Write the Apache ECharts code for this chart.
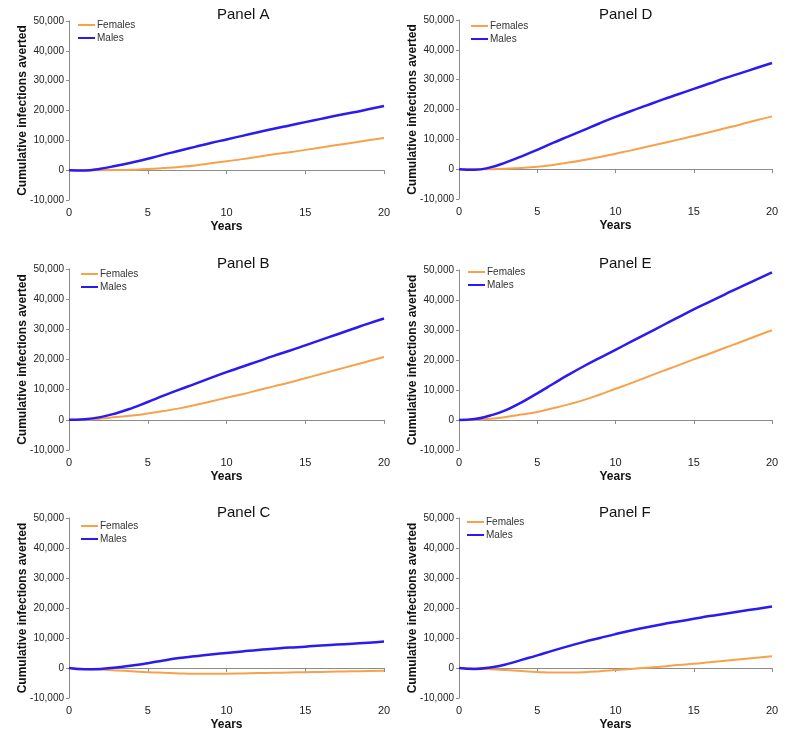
<html>
<head>
<meta charset="utf-8">
<title>Cumulative infections averted</title>
<script src="https://cdn.jsdelivr.net/npm/echarts@6/dist/echarts.min.js"></script>
<style>
  body { margin: 0; background: #fff; }
</style>
</head>
<body>
<div id="main" style="width: 796px; height: 742px;"></div>
<script type="text/javascript">
// years since start
var years = [0, 1, 2, 3, 4, 5, 6, 7, 8, 9, 10, 11, 12, 13, 14, 15, 16, 17, 18, 19, 20];
var yTicks = [-10000, 0, 10000, 20000, 30000, 40000, 50000];
var xTicks = [0, 5, 10, 15, 20];
var panelNames = ['Panel A', 'Panel B', 'Panel C', 'Panel D', 'Panel E', 'Panel F'];
var seriesNames = ['Females', 'Males'];

// values
var femalesA = [0, -50, 0, 50, 150, 350, 700, 1100, 1600, 2300, 3000, 3700, 4500, 5300, 6000, 6800, 7600, 8400, 9200, 10000, 10800];
var malesA = [0, -100, 500, 1500, 2600, 3800, 5200, 6500, 7800, 9100, 10300, 11500, 12700, 13900, 15000, 16100, 17200, 18300, 19300, 20400, 21500];
var femalesB = [0, 100, 400, 900, 1400, 2100, 2900, 3800, 4900, 6100, 7300, 8500, 9800, 11100, 12400, 13800, 15200, 16600, 18000, 19400, 20800];
var malesB = [0, 200, 900, 2200, 3900, 5900, 8000, 10000, 11900, 13900, 15800, 17600, 19400, 21200, 22900, 24700, 26500, 28300, 30100, 31900, 33600];
var femalesC = [0, -300, -500, -800, -1100, -1400, -1600, -1800, -1900, -1900, -1900, -1800, -1700, -1600, -1500, -1400, -1300, -1200, -1100, -1000, -900];
var malesC = [0, -400, -300, 200, 800, 1600, 2500, 3300, 3900, 4500, 5000, 5500, 6000, 6400, 6800, 7100, 7500, 7800, 8100, 8400, 8800];
var femalesD = [0, -50, 0, 150, 400, 800, 1400, 2200, 3100, 4100, 5200, 6300, 7500, 8700, 9900, 11100, 12400, 13700, 15000, 16400, 17700];
var malesD = [0, -200, 600, 2300, 4300, 6500, 8800, 11000, 13200, 15400, 17500, 19500, 21400, 23300, 25100, 26900, 28700, 30500, 32200, 33900, 35600];
var femalesE = [0, 100, 400, 1000, 1800, 2700, 3900, 5200, 6700, 8500, 10400, 12300, 14300, 16300, 18200, 20200, 22100, 24100, 26000, 28000, 29900];
var malesE = [0, 300, 1500, 3300, 5900, 8900, 12000, 15100, 18000, 20700, 23400, 26100, 28800, 31500, 34200, 36900, 39400, 41900, 44400, 46800, 49200];
var femalesF = [0, -200, -400, -700, -1000, -1300, -1500, -1500, -1400, -1100, -700, -300, 100, 500, 1000, 1400, 1900, 2400, 2900, 3400, 3900];
var malesF = [0, -300, 200, 1200, 2700, 4200, 5800, 7300, 8700, 10000, 11300, 12500, 13600, 14600, 15500, 16400, 17300, 18100, 18900, 19700, 20500];

var femalesAll = [femalesA, femalesB, femalesC, femalesD, femalesE, femalesF];
var malesAll = [malesA, malesB, malesC, malesD, malesE, malesF];

var font = 'Liberation Sans, Arial, Helvetica, sans-serif';
var femaleColor = '#F7A24B';
var maleColor = '#2B1BF2';
var axisGray = '#8c8c8c';

// panel placement: A B C left column, D E F right column
var boxes = [
  { left: 69, top: 21, width: 315, height: 179, title: [217, 7], legend: [78, 20] },
  { left: 69, top: 269, width: 315, height: 181, title: [217, 256], legend: [81, 269] },
  { left: 69, top: 518, width: 315, height: 180, title: [217, 505], legend: [81, 521] },
  { left: 459, top: 20, width: 313, height: 179, title: [599, 7], legend: [471, 21] },
  { left: 459, top: 270, width: 313, height: 180, title: [599, 256], legend: [468, 267] },
  { left: 459, top: 518, width: 313, height: 180, title: [599, 505], legend: [467, 517] }
];

function pairs(vals) {
  return years.map(function (x, i) { return [x, vals[i]]; });
}

var titles = [], legends = [], grids = [], xAxes = [], yAxes = [], series = [];

for (var k = 0; k < 6; k++) {
  var b = boxes[k];
  titles.push({
    text: panelNames[k],
    left: b.title[0], top: b.title[1], padding: 0,
    textStyle: { fontFamily: font, fontSize: 15, fontWeight: 'normal', color: '#111' }
  });
  legends.push({
    data: [
      { name: 'Females', icon: 'rect' },
      { name: 'Males', icon: 'rect' }
    ],
    orient: 'vertical',
    left: b.legend[0], top: b.legend[1], padding: 0,
    itemWidth: 17, itemHeight: 2, itemGap: 3,
    selectedMode: false,
    textStyle: { fontFamily: font, fontSize: 10, color: '#333', padding: [0, 0, 0, -3] }
  });
  grids.push({ left: b.left, top: b.top, width: b.width, height: b.height, containLabel: false, outerBoundsMode: 'none' });

  // labelled axis along the bottom
  xAxes.push({
    type: 'value', gridIndex: k, position: 'bottom',
    min: xTicks[0], max: xTicks[xTicks.length - 1], interval: 5,
    name: 'Years', nameLocation: 'middle', nameGap: 21,
    nameTextStyle: { fontFamily: font, fontSize: 12, fontWeight: 'bold', color: '#111' },
    axisLine: { show: false, onZero: false },
    axisTick: { show: false },
    splitLine: { show: false },
    axisLabel: { fontFamily: font, fontSize: 11, color: '#222', margin: 7 }
  });
  // axis line drawn through zero
  xAxes.push({
    type: 'value', gridIndex: k, position: 'top',
    min: xTicks[0], max: xTicks[xTicks.length - 1], interval: 5,
    axisLine: { show: true, onZero: true, lineStyle: { color: axisGray, width: 1 } },
    axisTick: { show: true, inside: true, length: 4, lineStyle: { color: axisGray } },
    splitLine: { show: false },
    axisLabel: { show: false }
  });
  yAxes.push({
    type: 'value', gridIndex: k,
    min: yTicks[0], max: yTicks[yTicks.length - 1], interval: 10000,
    name: 'Cumulative infections averted', nameLocation: 'middle', nameGap: 40, nameRotate: 90,
    nameMoveOverlap: false,
    nameTextStyle: { fontFamily: font, fontSize: 12, fontWeight: 'bold', color: '#111' },
    axisLine: { show: true, lineStyle: { color: axisGray, width: 1 } },
    axisTick: { show: true, length: 3, lineStyle: { color: axisGray } },
    splitLine: { show: false },
    axisLabel: {
      fontFamily: font, fontSize: 10, color: '#222', margin: 5,
      formatter: function (v) { return v.toLocaleString('en-US'); }
    }
  });

  series.push({
    name: 'Females', type: 'line', xAxisIndex: 2 * k + 1, yAxisIndex: k,
    smooth: true, symbol: 'none', data: pairs(femalesAll[k]),
    lineStyle: { color: femaleColor, width: 2 }, itemStyle: { color: femaleColor }
  });
  series.push({
    name: 'Males', type: 'line', xAxisIndex: 2 * k + 1, yAxisIndex: k,
    smooth: true, symbol: 'none', data: pairs(malesAll[k]),
    lineStyle: { color: maleColor, width: 2.5 }, itemStyle: { color: maleColor }
  });
}

var myChart = echarts.init(document.getElementById('main'), null, { renderer: 'canvas' });
myChart.setOption({
  animation: false,
  backgroundColor: '#fff',
  title: titles,
  legend: legends,
  grid: grids,
  xAxis: xAxes,
  yAxis: yAxes,
  series: series
});
</script>
</body>
</html>
